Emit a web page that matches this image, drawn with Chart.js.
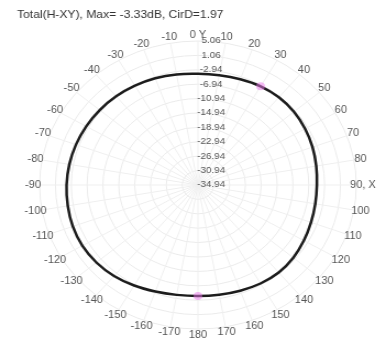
<!DOCTYPE html>
<html><head><meta charset="utf-8">
<script src="https://cdn.jsdelivr.net/npm/chart.js@4.4.1/dist/chart.umd.min.js"></script>
<style>
html,body{margin:0;padding:0;background:#fff;overflow:hidden;}
#wrap{position:absolute;left:0;top:0;width:351px;height:340px;transform:scaleX(1.0997);transform-origin:0 0;}
</style></head><body>
<div id="wrap"><canvas id="c"></canvas></div>
<script>
const titleText = 'Total(H-XY), Max= -3.33dB, CirD=1.97';
const angleLabels = ['0 Y','10','20','30','40','50','60','70','80','90, X','100','110','120','130','140','150','160','170','180',
  '-170','-160','-150','-140','-130','-120','-110','-100','-90','-80','-70','-60','-50','-40','-30','-20','-10'];
const gainValues = [-4.05,-4.00,-3.70,-3.30,-3.15,-3.30,-3.70,-4.15,-4.60,-4.90,-4.85,-4.55,-4.05,-3.50,-3.20,-3.35,-3.70,-4.00,
  -4.10,-3.95,-3.45,-2.70,-1.95,-1.45,-1.20,-1.30,-1.55,-1.75,-1.95,-2.15,-2.35,-2.55,-2.80,-3.10,-3.40,-3.75];
const radialTicks = [5.06,1.06,-2.94,-6.94,-10.94,-14.94,-18.94,-22.94,-26.94,-30.94,-34.94];
const radialTickLabels = ['5.06','1.06','-2.94','-6.94','-10.94','-14.94','-18.94','-22.94','-26.94','-30.94','-34.94'];
const markerIdx = [3, 18];

const FONT = '"Liberation Sans", Arial, sans-serif';
const textPlugin = {
  id: 'texts',
  beforeDatasetsDraw(chart) {
    const ctx = chart.ctx, s = chart.scales.r;
    ctx.save();
    ctx.font = '9px ' + FONT;
    ctx.fillStyle = '#555';
    ctx.textAlign = 'center';
    ctx.textBaseline = 'middle';
    radialTicks.forEach((v, i) => {
      const d = s.getDistanceFromCenterForValue(v);
      ctx.fillText(radialTickLabels[i], s.xCenter + 12, s.yCenter - d);
    });
    ctx.restore();
  },
  afterDraw(chart) {
    const ctx = chart.ctx, s = chart.scales.r;
    ctx.save();
    ctx.font = '11px ' + FONT;
    ctx.fillStyle = '#333';
    ctx.textAlign = 'left';
    ctx.textBaseline = 'middle';
    ctx.fillText(titleText, 15.5, 15);
    ctx.font = '10px ' + FONT;
    ctx.fillStyle = '#555';
    ctx.textAlign = 'center';
    angleLabels.forEach((t, i) => {
      const p = s.getPointPosition(i, s.drawingArea + 6);
      ctx.fillText(t, p.x, p.y);
    });
    ctx.restore();
  }
};

new Chart(document.getElementById('c'), {
  type: 'radar',
  data: {
    labels: angleLabels,
    datasets: [{
      data: gainValues,
      borderColor: '#1c1c1c',
      borderWidth: 2.5,
      fill: false,
      tension: 0.4,
      pointRadius: c => markerIdx.includes(c.dataIndex) ? 4 : 0,
      pointBackgroundColor: 'rgba(235,120,235,0.5)',
      pointBorderWidth: 0
    }]
  },
  options: {
    responsive: true,
    maintainAspectRatio: false,
    animation: false,
    layout: { padding: { left: 36, right: 27, top: 41, bottom: 11 } },
    plugins: { legend: { display: false }, title: { display: false }, tooltip: { enabled: false } },
    scales: {
      r: {
        min: -34.94, max: 5.06,
        startAngle: 0,
        ticks: { display: false, stepSize: 4 },
        pointLabels: { display: false },
        grid: { color: '#ebebeb', circular: true },
        angleLines: { color: '#efefef' }
      }
    }
  },
  plugins: [textPlugin]
});
</script>
</body></html>
